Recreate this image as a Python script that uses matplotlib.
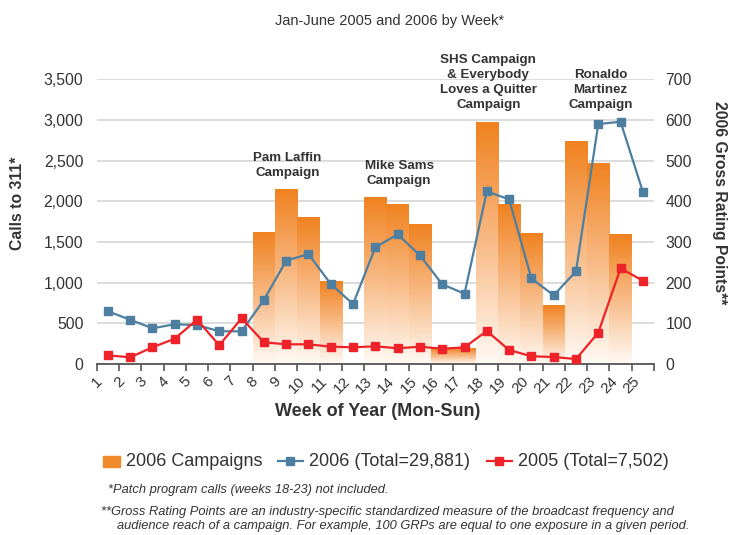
import numpy as np
import matplotlib
matplotlib.use("Agg")
import matplotlib.pyplot as plt
from matplotlib.colors import LinearSegmentedColormap
from matplotlib.lines import Line2D
from matplotlib.patches import Rectangle

plt.rcParams['font.family'] = ['Liberation Sans', 'DejaVu Sans']

### DATA ###
weeks = list(range(1, 26))
week_labels = [str(w) for w in weeks]

# weekly calls to 311, 2006 and 2005
calls_2006 = [648, 544, 439, 488, 479, 402, 402, 787, 1270, 1352, 983, 737, 1434,
              1594, 1336, 980, 864, 2122, 2024, 1053, 844, 1139, 2950, 2978, 2118]
calls_2005 = [107, 82, 205, 311, 544, 230, 562, 267, 242, 242, 213, 205, 218,
              193, 213, 188, 205, 406, 172, 95, 86, 61, 385, 1176, 1024]

# 2006 campaign gross rating points
grp_2006 = [0, 0, 0, 0, 0, 0, 0, 323, 428, 359, 204, 0, 410,
            391, 342, 39, 39, 595, 391, 320, 145, 546, 492, 318, 0]

campaigns = ["Pam Laffin\nCampaign", "Mike Sams\nCampaign",
             "SHS Campaign\n& Everybody\nLoves a Quitter\nCampaign",
             "Ronaldo\nMartinez\nCampaign"]
campaign_x = [9.05, 14.07, 18.07, 23.1]
campaign_y = [2440, 2343, 3466, 3365]

series_names = ["2006 Campaigns", "2006 (Total=29,881)", "2005 (Total=7,502)"]

### COLORS ###
txt = '#333333'
blue = '#4e7fa0'
red = '#ee2229'
orange = '#f08a2a'

W, H = 740, 535
fig = plt.figure(figsize=(W / 100, H / 100), dpi=100)


def fx(x):
    return x / W


def fy(y):
    return 1 - y / H


ax = fig.add_axes([fx(96.7), fy(364), (654 - 96.7) / W, (364 - 79.3) / H])
ax2 = ax.twinx()
ax.set_zorder(ax2.get_zorder() + 1)
ax.patch.set_visible(False)

# gradient bars on the GRP axis
grad = np.linspace(0, 1, 256).reshape(-1, 1)
cmap = LinearSegmentedColormap.from_list(
    'bar', [(0, '#fffaf5'), (0.5, '#f8bb87'), (1, '#f0821f')])
for wk, g in zip(weeks, grp_2006):
    if g > 0:
        ax2.imshow(grad, extent=(wk - 0.5, wk + 0.5, 0, g), origin='lower',
                   cmap=cmap, aspect='auto', interpolation='bilinear', zorder=2)

ax2.set_ylim(0, 700)
ax2.set_yticks(range(0, 701, 100))
ax2.yaxis.grid(True, color='#d9d9d9', linewidth=1.3, zorder=1)
ax2.set_axisbelow(True)
ax2.tick_params(axis='y', length=0, pad=8.4, labelsize=11.3, labelcolor=txt)
for s in ax2.spines.values():
    s.set_visible(False)

# weekly call lines
ax.plot(weeks, calls_2006, color=blue, lw=1.6, marker='s', ms=6.2,
        mec=blue, mfc=blue, zorder=5)
ax.plot(weeks, calls_2005, color=red, lw=1.6, marker='s', ms=6.2,
        mec=red, mfc=red, zorder=6)

ax.set_xlim(0.5, 25.5)
ax.set_ylim(0, 3500)
ax.set_yticks(range(0, 3501, 500))
ax.set_yticklabels([f'{v:,}' for v in range(0, 3501, 500)])
ax.tick_params(axis='y', length=0, pad=9.6, labelsize=11.3, labelcolor=txt)

ax.set_xticks(np.arange(0.5, 26, 1))
ax.set_xticklabels(week_labels + [''], rotation=45, ha='center', va='top')
ax.tick_params(axis='x', length=5, width=1.2, color='#555555', pad=2,
               labelsize=11, labelcolor=txt)
for k in ['left', 'right', 'top']:
    ax.spines[k].set_visible(False)
ax.spines['bottom'].set_color('#555555')
ax.spines['bottom'].set_linewidth(1.3)

# campaign labels
for name, x, y in zip(campaigns, campaign_x, campaign_y):
    ax.text(x, y, name, ha='center', va='center', fontsize=9.6,
            fontweight='bold', color=txt, linespacing=1.33, zorder=7)

# titles and axis labels
fig.text(fx(390), fy(20.5), "Jan-June 2005 and 2006 by Week*", ha='center',
         va='center', fontsize=10.5, color=txt)
fig.text(fx(17.5), fy(203), "Calls to 311*", rotation=90, ha='center',
         va='center', fontsize=11.3, fontweight='bold', color=txt)
fig.text(fx(720), fy(203), "2006 Gross Rating Points**", rotation=270,
         ha='center', va='center', fontsize=11.3, fontweight='bold', color=txt)
fig.text(fx(378), fy(412), "Week of Year (Mon-Sun)", ha='center', va='center',
         fontsize=13, fontweight='bold', color=txt)

# legend
ly = 461
fig.patches.append(Rectangle((fx(103.4), fy(ly + 5.5)), 17 / W, 11 / H,
                             transform=fig.transFigure, color=orange))
fig.lines.append(Line2D([fx(277.7), fx(290), fx(302.6)], [fy(ly)] * 3,
                        transform=fig.transFigure, color=blue, lw=1.6,
                        marker='s', ms=5.5, markevery=[1]))
fig.lines.append(Line2D([fx(486.5), fx(499), fx(511.5)], [fy(ly)] * 3,
                        transform=fig.transFigure, color=red, lw=1.6,
                        marker='s', ms=5.5, markevery=[1]))
for x, name in zip([126.4, 309, 518], series_names):
    fig.text(fx(x), fy(ly), name, ha='left', va='center', fontsize=13,
             color=txt)

# footnotes
notes = [(108, 490, "*Patch program calls (weeks 18-23) not included."),
         (101, 512, "**Gross Rating Points are an industry-specific standardized "
                    "measure of the broadcast frequency and"),
         (117, 526, "audience reach of a campaign. For example, 100 GRPs are "
                    "equal to one exposure in a given period.")]
for x, y, s in notes:
    fig.text(fx(x), fy(y), s, ha='left', va='center', fontsize=9.3,
             style='italic', color=txt)

fig.savefig('out.png', dpi=100, facecolor='white')
